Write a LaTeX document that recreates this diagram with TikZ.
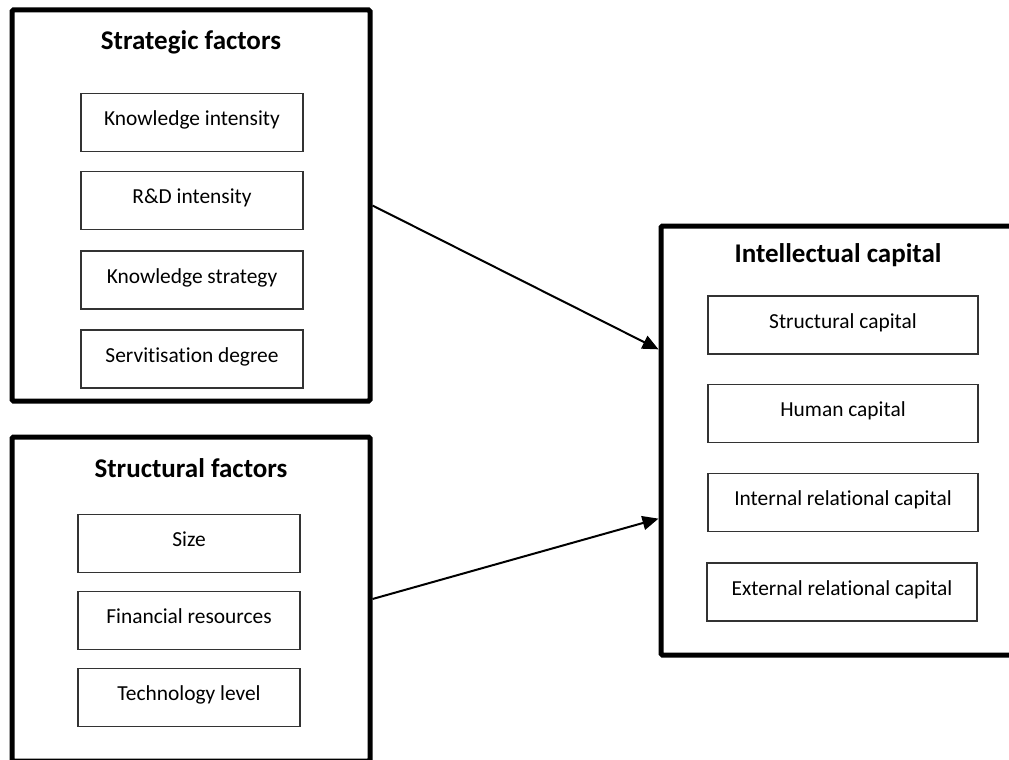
\documentclass[tikz,border=0pt]{standalone}
\usepackage{fontspec}
\setmainfont{Carlito}[Ligatures={NoCommon}]
\usepackage{tikz}
\usetikzlibrary{calc}
\usetikzlibrary{arrows.meta}

\begin{document}
\begin{tikzpicture}[x=1pt,y=-1pt,
        group/.style={draw,line width=5pt,rounded corners=1.5pt,inner sep=0pt},
        item/.style={draw=black!80,line width=1.3pt,minimum height=58pt,inner sep=0pt,text depth=8pt,font=\fontsize{21.4}{25}\selectfont},
        title/.style={font=\fontsize{27}{32}\selectfont\bfseries},
        arr/.style={line width=2pt,-{Triangle[length=16pt,width=14pt]}}]
        \useasboundingbox (0,0) rectangle (1009,760);

        % Outer boxes
        \node[group,minimum width=358pt,minimum height=391pt] (sfac) at (191,205.5) {};
        \node[group,minimum width=358pt,minimum height=324pt] (tfac) at (191,599) {};
        \node[group,minimum width=380pt,minimum height=429pt] (icap) at (851,440.5) {};

        % Titles
        \node[title] (stitle) at (191,42) {Strategic factors};
        \node[title] (ttitle) at (191,468) {Structural factors};
        \node[title] (ititle) at (838,255) {Intellectual capital};

        % Strategic factors
        \node[item,minimum width=222pt] (know) at (192,122.5) {Knowledge intensity};
        \node[item,minimum width=222pt] (rnd) at (192,200.5) {R\&D intensity};
        \node[item,minimum width=222pt] (kstr) at (192,280) {Knowledge strategy};
        \node[item,minimum width=222pt] (serv) at (192,359) {Servitisation degree};

        % Structural factors
        \node[item,minimum width=222pt] (size) at (189,543.5) {Size};
        \node[item,minimum width=222pt] (fin) at (189,620.5) {Financial resources};
        \node[item,minimum width=222pt] (tech) at (189,697.5) {Technology level};

        % Intellectual capital
        \node[item,minimum width=270pt] (strc) at (843,325) {Structural capital};
        \node[item,minimum width=270pt] (hum) at (843,413.5) {Human capital};
        \node[item,minimum width=270pt] (irel) at (843,502.5) {Internal relational capital};
        \node[item,minimum width=270pt] (erel) at (842,592) {External relational capital};

        % Arrows
        \coordinate (in1) at ($(icap.north west)!0.29!(icap.south west)$);
        \coordinate (in2) at ($(icap.north west)!0.68!(icap.south west)$);
        \draw[arr] (sfac.east) -- (in1);
        \draw[arr] (tfac.east) -- (in2);
    \end{tikzpicture}
\end{document}
